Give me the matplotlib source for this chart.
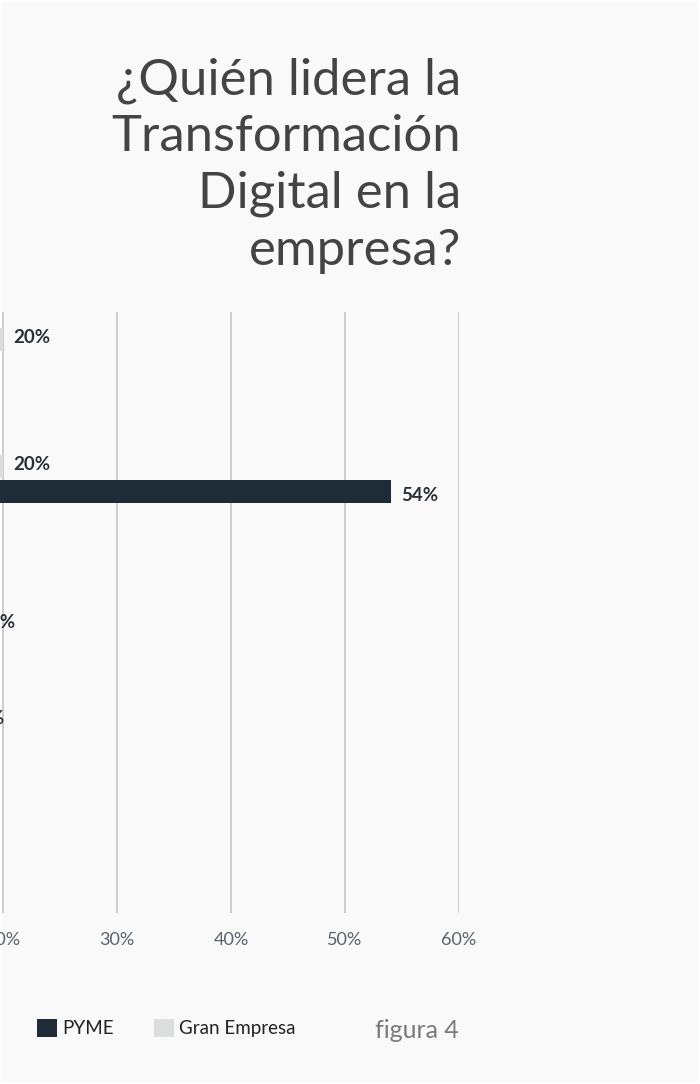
import matplotlib.pyplot as plt
from matplotlib.patches import Rectangle

# Who leads digital transformation, by company size (% of respondents)
categories = [
    "Dirección General",
    "Dirección de Sistemas",
    "Dirección de Marketing",
    "Dirección de Operaciones",
    "Otros",
]
pyme = [10, 54, 17, 8, 5]
gran_empresa = [20, 20, 9, 16, 6]
series_names = ["PYME", "Gran Empresa"]
x_ticks = [0, 10, 20, 30, 40, 50, 60]

title = "¿Quién lidera la\nTransformación\nDigital en la\nempresa?"
caption = "figura 4"

BG = "#f9f9f9"
DARK = "#1f2b36"
LIGHT = "#dcdedd"
GRID = "#c9c9c9"

W, H = 700, 1084
fig = plt.figure(figsize=(W / 100, H / 100), dpi=100, facecolor="white")
fig.patches.append(Rectangle((2 / W, 2 / H), 1 - 4 / W, 1 - 4 / H,
                             transform=fig.transFigure, facecolor=BG,
                             edgecolor="none", zorder=-10))

# the plot area runs past the left edge of the page
left_px, right_px, top_px, bot_px = -225, 459, 312, 913
ax = fig.add_axes([left_px / W, 1 - bot_px / H,
                   (right_px - left_px) / W, (bot_px - top_px) / H])
ax.set_facecolor("none")

bar_h = 0.181
shift = 0.098
ys = list(range(len(categories)))
b_gran = ax.barh([y - shift for y in ys], gran_empresa, height=bar_h,
                 color=LIGHT, zorder=3, label=series_names[1])
b_pyme = ax.barh([y + shift for y in ys], pyme, height=bar_h,
                 color=DARK, zorder=3, label=series_names[0])

for bars, vals, dy in ((b_gran, gran_empresa, -0.02), (b_pyme, pyme, 0.03)):
    for rect, v in zip(bars, vals):
        ax.text(v + 0.9, rect.get_y() + rect.get_height() / 2 + dy, f"{v}%",
                ha="left", va="center", fontsize=13.5, fontweight="bold",
                family="Lato", color="#2a2e35", zorder=4)

ax.set_xlim(0, 60)
ax.set_ylim(len(categories) - 1 + 0.417, -0.315)
ax.set_xticks(x_ticks)
ax.set_xticklabels([f"{t}%" for t in x_ticks], family="Lato", fontsize=13,
                   color="#59626b")
ax.set_yticks(ys)
ax.tick_params(axis="x", length=0, pad=14)
ax.tick_params(axis="y", length=0, labelleft=False)
ax.grid(axis="x", color=GRID, linewidth=1.3, zorder=0)
for s in ax.spines.values():
    s.set_visible(False)

fig.text(461 / W, 1 - 57 / H, title, ha="right", va="top", family="Lato",
         fontsize=36.5, color="#444444", linespacing=1.29)

fig.legend([b_pyme, b_gran], series_names, loc="center left",
           bbox_to_anchor=(29 / W, 1 - 1028 / H), ncol=2, frameon=False,
           prop={"family": "Lato", "size": 13.5}, labelcolor="#222222",
           handlelength=1.1, handleheight=1.1, handletextpad=0.25,
           columnspacing=2.15, borderaxespad=0)

fig.text(459 / W, 1 - 1030 / H, caption, ha="right", va="center",
         family="Lato", fontsize=18, color="#7a7a7a")

fig.savefig("out.png", dpi=100, facecolor="white")
